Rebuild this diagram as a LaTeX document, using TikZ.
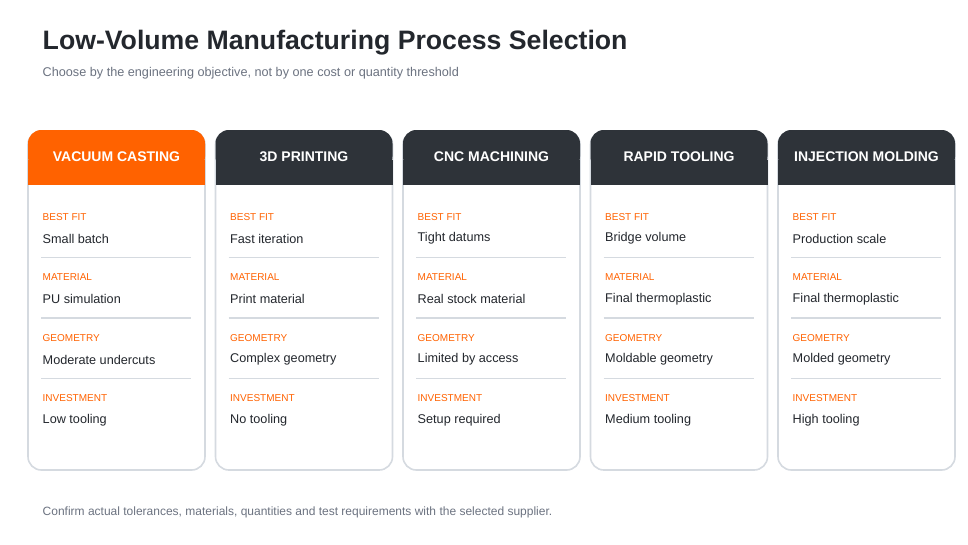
\documentclass[tikz,border=0pt]{standalone}
\usepackage{fontspec}
\setmainfont{Liberation Sans}
\definecolor{accent}{HTML}{FF6200}
\definecolor{dark}{HTML}{2E3339}
\definecolor{edge}{HTML}{D5DAE0}
\definecolor{muted}{HTML}{6B7280}
\definecolor{ink}{HTML}{23272D}
\tikzset{
  card/.style={draw=edge, line width=1.2pt, fill=white, rounded corners=10},
  head/.style={rounded corners=10},
  headtext/.style={text=white, font=\bfseries\fontsize{10.5}{12}\selectfont},
  tag/.style={anchor=west, text=accent, font=\fontsize{7.5}{9}\selectfont},
  value/.style={anchor=west, text=ink, font=\fontsize{9.5}{11}\selectfont},
  rule/.style={draw=edge, line width=0.8pt}
}
\begin{document}
\begin{tikzpicture}[x=0.75pt,y=-0.75pt]
\useasboundingbox (0,0) rectangle (968,544);
% titles
\node[anchor=west, text=ink, font=\bfseries\fontsize{20}{24}\selectfont] (title) at (38,43) {Low-Volume Manufacturing Process Selection};
\node[anchor=west, text=muted, font=\fontsize{9.5}{11}\selectfont] (subtitle) at (38,73) {Choose by the engineering objective, not by one cost or quantity threshold};

% cards
\foreach \i/\name/\col/\a/\b/\c/\d in {
  0/VACUUM CASTING/accent/Small batch/PU simulation/Moderate undercuts/Low tooling,
  1/3D PRINTING/dark/Fast iteration/Print material/Complex geometry/No tooling,
  2/CNC MACHINING/dark/Tight datums/Real stock material/Limited by access/Setup required,
  3/RAPID TOOLING/dark/Bridge volume/Final thermoplastic/Moldable geometry/Medium tooling,
  4/INJECTION MOLDING/dark/Production scale/Final thermoplastic/Molded geometry/High tooling}{
  \pgfmathsetmacro{\x}{28+187.5*\i}
  \draw[card] (\x,131) rectangle ++(177,339);
  \fill[\col, head] (\x,130) rectangle ++(177,40);
  \fill[\col] (\x,160) rectangle ++(177,25);
  \node[headtext] (head\i) at (\x+88.5,157) {\name};
  \foreach \j/\t/\v in {0/BEST FIT/\a,1/MATERIAL/\b,2/GEOMETRY/\c,3/INVESTMENT/\d}{
    \node[tag] (tag\i\j) at (\x+10,217+60.5*\j) {\t};
    \node[value] (val\i\j) at (\x+10,238.5+60.5*\j) {\v};
    \ifnum\j<3 \draw[rule] (\x+13,257.5+60.5*\j) -- ++(150,0); \fi
  }
}

\node[anchor=west, text=muted, font=\fontsize{9}{11}\selectfont] (note) at (38,512) {Confirm actual tolerances, materials, quantities and test requirements with the selected supplier.};
\end{tikzpicture}
\end{document}
